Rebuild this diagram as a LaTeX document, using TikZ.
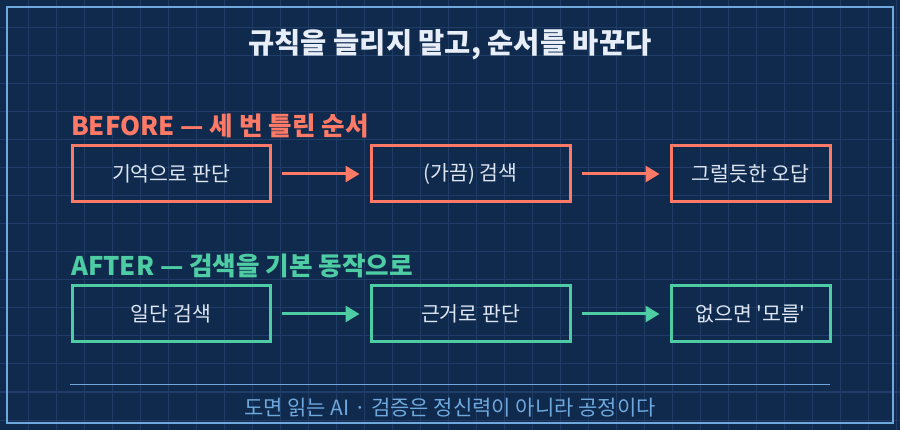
\documentclass[tikz,border=0pt]{standalone}
\usepackage{fontspec}
\newfontfamily\krfont{Noto Sans CJK KR}
\usetikzlibrary{arrows.meta}
\definecolor{bgnavy}{HTML}{0F2A4D}
\definecolor{gridline}{HTML}{1F3D66}
\definecolor{frameblue}{HTML}{6FA8DC}
\definecolor{coral}{HTML}{FF7A66}
\definecolor{mint}{HTML}{4ECCA3}
\definecolor{boxtext}{HTML}{DDE6F2}
\definecolor{titletext}{HTML}{E8EEF8}
\tikzset{
  stepbox/.style={draw, line width=3pt, minimum height=56pt, inner sep=0pt, text=boxtext, font=\krfont\fontsize{20.5}{20.5}\selectfont},
  beforebox/.style={stepbox, draw=coral},
  afterbox/.style={stepbox, draw=mint},
  flow/.style={line width=3pt, -{Triangle[length=14pt,width=16pt]}, shorten <=10pt, shorten >=10pt},
  heading/.style={anchor=west, inner sep=0pt, font=\krfont\fontsize{25.6}{25.6}\selectfont\bfseries},
}
\begin{document}
\begin{tikzpicture}[x=1pt,y=-1pt]
\useasboundingbox (0,0) rectangle (900,430);
\fill[bgnavy] (0,0) rectangle (900,430);
\foreach \gx in {28,56,...,896} \draw[gridline, line width=1pt] (\gx,0) -- (\gx,430);
\foreach \gy in {28,56,...,428} \draw[gridline, line width=1pt] (0,\gy) -- (900,\gy);
\draw[frameblue, line width=2pt] (7,7) rectangle (893,423);

\node[text=titletext, font=\krfont\fontsize{28.5}{28.5}\selectfont\bfseries] (title) at (450,45) {규칙을 늘리지 말고, 순서를 바꾼다};

\node[heading, text=coral] (beforehead) at (71,126) {BEFORE — 세 번 틀린 순서};
\node[beforebox, minimum width=198pt] (b1) at (171,174) {기억으로 판단};
\node[beforebox, minimum width=199pt] (b2) at (470.5,174) {(가끔) 검색};
\node[beforebox, minimum width=159pt] (b3) at (750.5,174) {그럴듯한 오답};
\draw[flow, coral] (b1) -- (b2);
\draw[flow, coral] (b2) -- (b3);

\node[heading, text=mint] (afterhead) at (71,266) {AFTER — 검색을 기본 동작으로};
\node[afterbox, minimum width=198pt] (a1) at (171,314) {일단 검색};
\node[afterbox, minimum width=199pt] (a2) at (470.5,314) {근거로 판단};
\node[afterbox, minimum width=159pt] (a3) at (750.5,314) {없으면 '모름'};
\draw[flow, mint] (a1) -- (a2);
\draw[flow, mint] (a2) -- (a3);

\coordinate (sepl) at (70,385);
\coordinate (sepr) at (830,385);
\draw[frameblue, line width=1pt] (sepl) -- (sepr);
\node[text=frameblue, font=\krfont\fontsize{21}{21}\selectfont] (footer) at (450,408) {도면 읽는 AI · 검증은 정신력이 아니라 공정이다};
\end{tikzpicture}
\end{document}
